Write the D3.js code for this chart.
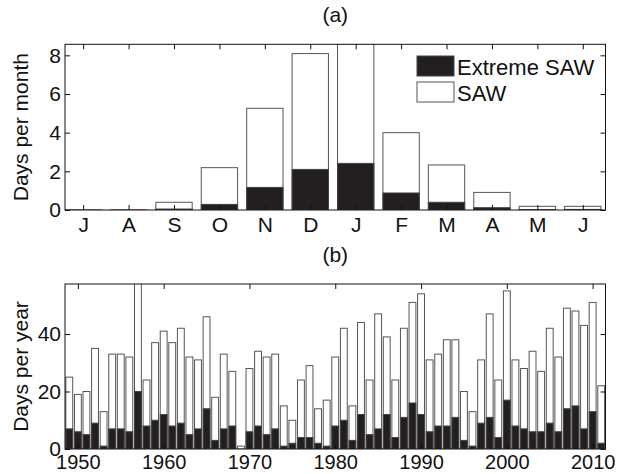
<!DOCTYPE html>
<html>
<head>
<meta charset="utf-8">
<script src="https://cdn.jsdelivr.net/npm/d3@7"></script>
<style>
    body { margin: 0; background: #fff; }
    svg text { font-family: "Liberation Sans", Arial, Helvetica, sans-serif; fill: #111; }
    .Frame { fill: none; stroke: #111; stroke-width: 1; }
    .SawBar { fill: #fff; stroke: #555; stroke-width: 1; }
    .ExtremeBar { fill: #231f20; stroke: #444; stroke-width: 1; }
</style>
</head>
<body>
<div id="ChartWrapper"></div>
<script>
// Panel (a): mean days per calendar month, July to June
const Months = ["J", "A", "S", "O", "N", "D", "J", "F", "M", "A", "M", "J"];
const SawPerMonth = [0.01, 0.01, 0.40, 2.19, 5.26, 8.09, 8.60, 4.00, 2.33, 0.91, 0.19, 0.19];
const ExtremePerMonth = [0.0, 0.0, 0.05, 0.29, 1.17, 2.10, 2.41, 0.88, 0.40, 0.12, 0.02, 0.03];
const MonthTicks = [0, 2, 4, 6, 8];

// Panel (b): days per year, 1949 - 2011
const FirstYear = 1949;
const SawPerYear = [
    25, 19, 20, 35, 13, 33, 33, 32, 58, 24,
    37, 41, 37, 42, 32, 31, 46, 18, 33, 27,
    1, 28, 34, 32, 33, 15, 10, 24, 29, 14,
    17, 32, 42, 15, 44, 24, 47, 39, 24, 42,
    51, 54, 31, 33, 38, 38, 20, 13, 31, 47,
    24, 55, 31, 28, 34, 27, 42, 32, 49, 48,
    43, 51, 22];
const ExtremePerYear = [
    7, 6, 5, 9, 1, 7, 7, 6, 20, 8,
    10, 12, 8, 9, 5, 7, 14, 3, 7, 8,
    0, 6, 8, 5, 7, 1, 2, 4, 4, 2,
    1, 8, 10, 3, 12, 5, 7, 12, 4, 11,
    16, 12, 6, 8, 8, 11, 3, 1, 9, 11,
    4, 17, 8, 7, 6, 6, 9, 6, 14, 15,
    7, 13, 2];
const YearTicks = [1950, 1960, 1970, 1980, 1990, 2000, 2010];
const YearValueTicks = [0, 20, 40];

const Legend = ["Extreme SAW", "SAW"];

const Width = 618;
const Height = 474;
const FontSize = 21;
const TickLen = 5;

let Canvas = d3.select("#ChartWrapper").append("svg")
    .attr("width", Width).attr("height", Height);

// Draws one MATLAB style boxed panel with overlaid bars
function drawPanel(Opt)
{
    const Left = 65, Right = 605.5;
    let ScaleX = d3.scaleLinear().domain(Opt.xDomain).range([Left, Right]);
    let ScaleY = d3.scaleLinear().domain(Opt.yDomain).range([Opt.bottom, Opt.top]);
    const BarW = ScaleX(Opt.xDomain[0] + 0.8) - ScaleX(Opt.xDomain[0]);

    Canvas.append("clipPath").attr("id", Opt.id + "-clip")
        .append("rect").attr("x", Left).attr("y", Opt.top)
        .attr("width", Right - Left).attr("height", Opt.bottom - Opt.top);

    let Bars = Canvas.append("g").attr("clip-path", `url(#${Opt.id}-clip)`);
    Bars.selectAll("rect.SawBar").data(Opt.total).join("rect")
        .attr("class", "SawBar")
        .attr("x", (d, i) => ScaleX(Opt.xAt(i)) - BarW / 2)
        .attr("y", d => ScaleY(d))
        .attr("width", BarW)
        .attr("height", d => ScaleY(0) - ScaleY(d));
    Bars.selectAll("rect.ExtremeBar").data(Opt.extreme).join("rect")
        .attr("class", "ExtremeBar")
        .attr("x", (d, i) => ScaleX(Opt.xAt(i)) - BarW / 2)
        .attr("y", d => ScaleY(d))
        .attr("width", BarW)
        .attr("height", d => ScaleY(0) - ScaleY(d));

    // Ticks point inwards on all four sides, labels only left and bottom
    let AxisB = d3.axisBottom(ScaleX).tickValues(Opt.xTicks).tickFormat(Opt.xFormat)
        .tickSizeInner(-TickLen).tickSizeOuter(0).tickPadding(Opt.xPad);
    let AxisT = d3.axisTop(ScaleX).tickValues(Opt.xTicks).tickFormat("")
        .tickSizeInner(-TickLen).tickSizeOuter(0);
    let AxisL = d3.axisLeft(ScaleY).tickValues(Opt.yTicks)
        .tickSizeInner(-TickLen).tickSizeOuter(0).tickPadding(4);
    let AxisR = d3.axisRight(ScaleY).tickValues(Opt.yTicks).tickFormat("")
        .tickSizeInner(-TickLen).tickSizeOuter(0);

    for(let [Axis, Tr, Size] of [[AxisB, `translate(0,${Opt.bottom})`, Opt.xFont],
                                 [AxisT, `translate(0,${Opt.top})`, FontSize],
                                 [AxisL, `translate(${Left},0)`, FontSize],
                                 [AxisR, `translate(${Right},0)`, FontSize]])
    {
        let G = Canvas.append("g").attr("transform", Tr).call(Axis);
        G.select(".domain").remove();
        G.selectAll("line").attr("stroke", "#111");
        G.selectAll("text").attr("font-size", Size)
            .attr("font-family", "Liberation Sans, Arial, sans-serif").attr("fill", "#111");
    }

    Canvas.append("rect").attr("class", "Frame")
        .attr("x", Left).attr("y", Opt.top)
        .attr("width", Right - Left).attr("height", Opt.bottom - Opt.top);

    Canvas.append("text").attr("x", (Left + Right) / 2).attr("y", Opt.top - 30)
        .attr("text-anchor", "middle").attr("dominant-baseline", "central")
        .attr("font-size", FontSize).text(Opt.title);

    Canvas.append("text")
        .attr("transform", `translate(20,${(Opt.top + Opt.bottom) / 2}) rotate(-90)`)
        .attr("text-anchor", "middle").attr("dominant-baseline", "central")
        .attr("font-size", FontSize).text(Opt.yLabel);

    return ScaleX;
}

drawPanel({
    id: "PanelA", top: 44.3, bottom: 210,
    xDomain: [0.6, 12.5], yDomain: [0, 8.57],
    xAt: i => i + 1,
    total: SawPerMonth, extreme: ExtremePerMonth,
    xTicks: d3.range(1, Months.length + 1), xFormat: d => Months[d - 1],
    xPad: 7, xFont: FontSize,
    yTicks: MonthTicks,
    title: "(a)", yLabel: "Days per month"
});

// Year labels sit right on the picture's lower edge, so a touch smaller
drawPanel({
    id: "PanelB", top: 284, bottom: 449,
    xDomain: [FirstYear - 0.5, FirstYear + SawPerYear.length - 0.5], yDomain: [0, 57.4],
    xAt: i => FirstYear + i,
    total: SawPerYear, extreme: ExtremePerYear,
    xTicks: YearTicks, xFormat: d3.format("d"),
    xPad: 6, xFont: 20,
    yTicks: YearValueTicks,
    title: "(b)", yLabel: "Days per year"
});

// Legend of panel (a), no box round it
let Leg = Canvas.append("g");
Legend.forEach((Name, i) =>
{
    const Y = 56 + i * 26;
    Leg.append("rect").attr("class", i == 0 ? "ExtremeBar" : "SawBar")
        .attr("x", 417).attr("y", Y).attr("width", 37).attr("height", 20);
    Leg.append("text").attr("x", 457).attr("y", Y + 11)
        .attr("dominant-baseline", "central").attr("font-size", FontSize + 1).text(Name);
});
</script>
</body>
</html>
